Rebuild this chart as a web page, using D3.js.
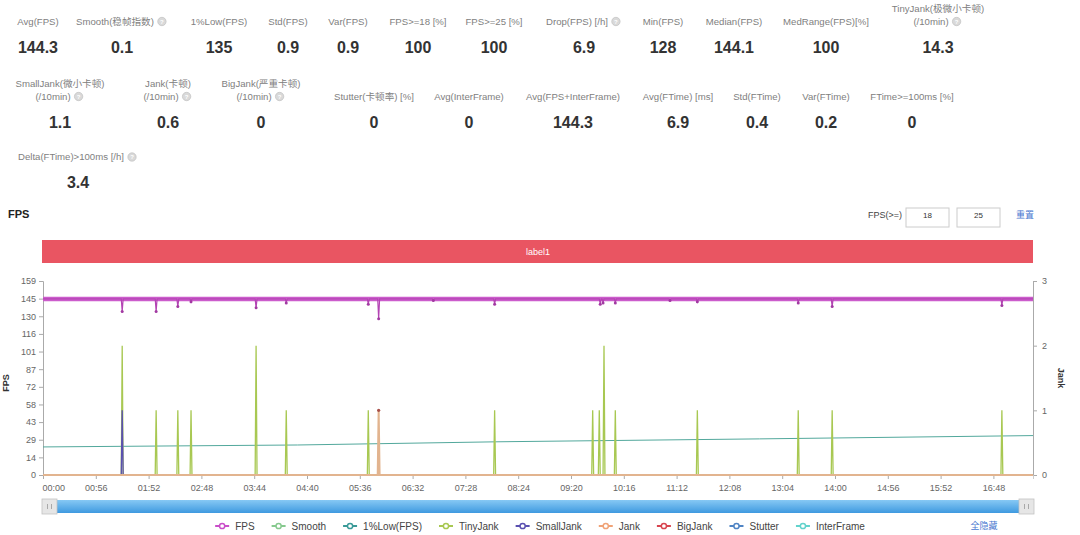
<!DOCTYPE html>
<html>
<head>
<meta charset="utf-8">
<script src="https://cdn.jsdelivr.net/npm/d3@7"></script>
<style>
  body { margin: 0; background: #fff; }
  svg text { font-family: "Liberation Sans", Arial, "Noto Sans CJK SC", sans-serif; }
</style>
</head>
<body>
<div id="chart"></div>
<script>
// ---- summary numbers (three rows of stat cards) ----
const statLabelsRow1 = ['Avg(FPS)', 'Smooth(稳帧指数)', '1%Low(FPS)', 'Std(FPS)', 'Var(FPS)', 'FPS>=18 [%]', 'FPS>=25 [%]',
  'Drop(FPS) [/h]', 'Min(FPS)', 'Median(FPS)', 'MedRange(FPS)[%]', 'TinyJank(极微小卡顿)\n(/10min)'];
const statValuesRow1 = ['144.3', '0.1', '135', '0.9', '0.9', '100', '100', '6.9', '128', '144.1', '100', '14.3'];
const statLabelsRow2 = ['SmallJank(微小卡顿)\n(/10min)', 'Jank(卡顿)\n(/10min)', 'BigJank(严重卡顿)\n(/10min)', 'Stutter(卡顿率) [%]',
  'Avg(InterFrame)', 'Avg(FPS+InterFrame)', 'Avg(FTime) [ms]', 'Std(FTime)', 'Var(FTime)', 'FTime>=100ms [%]'];
const statValuesRow2 = ['1.1', '0.6', '0', '0', '0', '144.3', '6.9', '0.4', '0.2', '0'];
const statLabelsRow3 = ['Delta(FTime)>100ms [/h]'];
const statValuesRow3 = ['3.4'];
const helpStats = ['Smooth(稳帧指数)', 'Drop(FPS) [/h]', 'TinyJank(极微小卡顿)\n(/10min)', 'SmallJank(微小卡顿)\n(/10min)',
  'Jank(卡顿)\n(/10min)', 'BigJank(严重卡顿)\n(/10min)', 'Delta(FTime)>100ms [/h]'];

// ---- chart data ----
const duration = 1050;                  // seconds shown on the x axis
const timeTickLabels = ['00:00', '00:56', '01:52', '02:48', '03:44', '04:40', '05:36', '06:32', '07:28', '08:24',
  '09:20', '10:16', '11:12', '12:08', '13:04', '14:00', '14:56', '15:52', '16:48'];
const fpsMax = 159;
const fpsTickLabels = ['0', '14', '29', '43', '58', '72', '87', '101', '116', '130', '145', '159'];
const jankTickLabels = ['0', '1', '2', '3'];
const fpsLevel = 144.3;                 // steady frame rate
const fpsDips = [[84, 134], [120, 134], [143, 138], [157, 142], [226, 137], [258, 141], [345, 140], [356, 128],
  [414, 143], [479, 140], [591, 140], [594, 141], [607, 141], [665, 143], [694, 142], [801, 141], [837, 138], [1017, 139]];
const smoothValues = [[0, 23.0], [270, 24.6], [480, 27.2], [760, 29.6], [1050, 32.3]];
const tinyJankEvents = [[84, 2], [120, 1], [143, 1], [157, 1], [226, 2], [258, 1], [345, 1], [479, 1],
  [583, 1], [590, 1], [595, 2], [607, 1], [694, 1], [801, 1], [837, 1], [1017, 1]];
const smallJankEvents = [[84, 1]];
const jankEvents = [[356, 1]];
const bigJankEvents = [];
const stutterEvents = [];
const interFrameEvents = [];
const legendNames = ['FPS', 'Smooth', '1%Low(FPS)', 'TinyJank', 'SmallJank', 'Jank', 'BigJank', 'Stutter', 'InterFrame'];
const legendColors = ['#c94fc9', '#86c98e', '#3a9a98', '#a8c852', '#5a50b0', '#f0a377', '#d8454f', '#4f84c4', '#62d3cc'];

const W = 1080, H = 535;
const svg = d3.select('#chart').append('svg').attr('width', W).attr('height', H);

// ---- stat cards ----
const statCenters = [
  [38, 122, 219, 288, 348, 418, 494, 584, 663, 734, 826, 938],
  [60, 168, 261, 374, 469, 573, 678, 757, 826, 912],
  [78]
];
const statRows = [
  { labels: statLabelsRow1, values: statValuesRow1, top: 9 },
  { labels: statLabelsRow2, values: statValuesRow2, top: 84 },
  { labels: statLabelsRow3, values: statValuesRow3, top: 157 }
];
const lineGap = 12.5;

statRows.forEach((row, ri) => {
  const nLines = d3.max(row.labels, l => l.split('\n').length);
  const bottomLine = row.top + (nLines - 1) * lineGap;
  row.labels.forEach((lab, i) => {
    const cx = statCenters[ri][i];
    const lines = lab.split('\n');
    const g = svg.append('g');
    const hasHelp = helpStats.includes(lab);
    lines.forEach((ln, li) => {
      const y = bottomLine - (lines.length - 1 - li) * lineGap;
      const isLast = li === lines.length - 1;
      const shift = (hasHelp && isLast) ? -7 : 0;
      const t = g.append('text')
        .attr('x', cx + shift).attr('y', y)
        .attr('dy', '0.35em')
        .attr('text-anchor', 'middle')
        .attr('font-size', 9.6)
        .attr('fill', '#808080')
        .text(ln);
      if (hasHelp && isLast) {
        const w = t.node().getComputedTextLength();
        const hx = cx + shift + w / 2 + 8;
        g.append('circle').attr('cx', hx).attr('cy', y).attr('r', 4.2)
          .attr('fill', '#d9d9d9').attr('stroke', '#bbb').attr('stroke-width', 0.6);
        g.append('text').attr('x', hx).attr('y', y).attr('dy', '0.35em')
          .attr('text-anchor', 'middle').attr('font-size', 6).attr('fill', '#fff')
          .attr('font-weight', 'bold').text('?');
      }
    });
    g.append('text')
      .attr('x', cx).attr('y', bottomLine + 25.5)
      .attr('dy', '0.35em')
      .attr('text-anchor', 'middle')
      .attr('font-size', 16)
      .attr('font-weight', 'bold')
      .attr('fill', '#333')
      .text(row.values[i]);
  });
});

// ---- chart header ----
svg.append('text').attr('x', 8).attr('y', 218).attr('font-size', 11).attr('font-weight', 'bold')
  .attr('fill', '#222').text('FPS');

svg.append('text').attr('x', 902).attr('y', 218).attr('text-anchor', 'end').attr('font-size', 9)
  .attr('fill', '#444').text('FPS(>=)');
[[906, '18'], [957, '25']].forEach(([bx, v]) => {
  svg.append('rect').attr('x', bx).attr('y', 208).attr('width', 43).attr('height', 19)
    .attr('fill', '#fff').attr('stroke', '#ccc');
  svg.append('text').attr('x', bx + 21.5).attr('y', 218).attr('text-anchor', 'middle')
    .attr('font-size', 8).attr('fill', '#333').text(v);
});
svg.append('text').attr('x', 1025).attr('y', 218).attr('text-anchor', 'middle').attr('font-size', 9)
  .attr('fill', '#4a78d0').text('重置');

const x = d3.scaleLinear().domain([0, duration]).range([43, 1033]);
const yFps = d3.scaleLinear().domain([0, fpsMax]).range([475, 281]);
const yJank = d3.scaleLinear().domain([0, jankTickLabels.length - 1]).range([475, 281]);

svg.append('rect').attr('x', x(0) - 1).attr('y', 240).attr('width', x(duration) - x(0) + 1).attr('height', 23)
  .attr('fill', '#e95562');
svg.append('text').attr('x', (x(0) + x(duration)) / 2).attr('y', 252).attr('dy', '0.35em')
  .attr('text-anchor', 'middle').attr('font-size', 9).attr('fill', '#fff').text('label1');

// ---- axes ----
const fpsTickValues = fpsTickLabels.map((_, i) => i * fpsMax / (fpsTickLabels.length - 1));
const axL = svg.append('g').attr('transform', `translate(${x(0)},0)`)
  .call(d3.axisLeft(yFps).tickValues(fpsTickValues).tickFormat((d, i) => fpsTickLabels[i]).tickSize(4).tickPadding(3));
const axR = svg.append('g').attr('transform', `translate(${x(duration)},0)`)
  .call(d3.axisRight(yJank).ticks(3).tickFormat((d, i) => jankTickLabels[i]).tickSize(4).tickPadding(5));
const tickTimes = timeTickLabels.map((_, i) => i * 56);
const axB = svg.append('g').attr('transform', `translate(0,${yFps(0)})`)
  .call(d3.axisBottom(x).tickValues(tickTimes).tickFormat((d, i) => timeTickLabels[i]).tickSize(4).tickPadding(6));

[axL, axR, axB].forEach(a => {
  a.select('.domain').attr('stroke', '#aaa');
  a.selectAll('.tick line').attr('stroke', '#aaa');
  a.selectAll('.tick text').attr('fill', '#666').attr('font-size', 9);
});
axB.select('.domain').attr('stroke', '#ccc');
axB.selectAll('.tick text').filter((d, i) => i === 0).attr('text-anchor', 'start').attr('dx', -1);

svg.append('text').attr('transform', `translate(9,${yFps(fpsMax / 2) + 5}) rotate(-90)`)
  .attr('text-anchor', 'middle').attr('font-size', 9).attr('font-weight', 'bold').attr('fill', '#333').text('FPS');
svg.append('text').attr('transform', `translate(1058,${yJank(1.5)}) rotate(90)`)
  .attr('text-anchor', 'middle').attr('font-size', 9).attr('font-weight', 'bold').attr('fill', '#333').text('Jank');

// ---- series ----
function spikes(events) {
  const pts = [[0, 0]];
  events.forEach(([t, v]) => pts.push([t - 1, 0], [t, v], [t + 1, 0]));
  pts.push([duration, 0]);
  return pts;
}
const plot = svg.append('g');
const jankLine = d3.line().x(d => x(d[0])).y(d => yJank(d[1]));
const fpsLine = d3.line().x(d => x(d[0])).y(d => yFps(d[1]));

plot.append('path').datum(smoothValues).attr('d', fpsLine)
  .attr('fill', 'none').attr('stroke', '#52a89c').attr('stroke-width', 1);

const jankSeries = [
  [tinyJankEvents, legendColors[3]],
  [smallJankEvents, legendColors[4]],
  [stutterEvents, legendColors[7]],
  [interFrameEvents, legendColors[8]],
  [bigJankEvents, legendColors[6]],
  [jankEvents, '#e2b48f']
];
jankSeries.forEach(([ev, col], k) => {
  plot.append('path').datum(spikes(ev)).attr('d', jankLine)
    .attr('fill', 'none').attr('stroke', col).attr('stroke-width', k === jankSeries.length - 1 ? 2 : 1.3);
});
plot.append('circle').datum(jankEvents[0]).attr('cx', d => x(d[0])).attr('cy', d => yJank(d[1]))
  .attr('r', 1.6).attr('fill', '#a8504a');

// FPS: steady band plus the short drops
plot.append('path').datum([[0, fpsLevel], [duration, fpsLevel]]).attr('d', fpsLine)
  .attr('fill', 'none').attr('stroke', '#cc5dcc').attr('stroke-width', 4.5);
const fpsPts = [[0, fpsLevel]];
fpsDips.forEach(([t, v]) => fpsPts.push([t - 1, fpsLevel], [t, v], [t + 1, fpsLevel]));
fpsPts.push([duration, fpsLevel]);
plot.append('path').datum(fpsPts).attr('d', fpsLine)
  .attr('fill', 'none').attr('stroke', '#b444b4').attr('stroke-width', 1.2);
plot.selectAll('.dip').data(fpsDips).join('circle')
  .attr('cx', d => x(d[0])).attr('cy', d => yFps(d[1])).attr('r', 1.5).attr('fill', '#a23aa2');

// ---- zoom slider ----
const sy = 500, sh = 13;
const grad = svg.append('defs').append('linearGradient').attr('id', 'slider-grad')
  .attr('x1', 0).attr('y1', 0).attr('x2', 0).attr('y2', 1);
grad.append('stop').attr('offset', '0%').attr('stop-color', '#86c8f4');
grad.append('stop').attr('offset', '100%').attr('stop-color', '#3f9ae0');
svg.append('rect').attr('x', x(0)).attr('y', sy).attr('width', x(duration) - x(0)).attr('height', sh)
  .attr('fill', 'url(#slider-grad)');
[x(0) - 1, x(duration) - 14].forEach(hx => {
  svg.append('rect').attr('x', hx).attr('y', sy - 1).attr('width', 15).attr('height', sh + 2)
    .attr('fill', '#e6e6e6').attr('stroke', '#c2c2c2').attr('stroke-width', 0.8);
  [5.5, 9.5].forEach(o => svg.append('line').attr('x1', hx + o).attr('x2', hx + o)
    .attr('y1', sy + 4).attr('y2', sy + sh - 4).attr('stroke', '#999').attr('stroke-width', 0.8));
});

// ---- legend ----
const legend = svg.append('g');
let lx = 0;
legendNames.forEach((name, i) => {
  const item = legend.append('g').attr('transform', `translate(${lx},0)`);
  item.append('line').attr('x1', 0).attr('x2', 14).attr('y1', 0).attr('y2', 0)
    .attr('stroke', legendColors[i]).attr('stroke-width', 2);
  item.append('circle').attr('cx', 7).attr('cy', 0).attr('r', 2.6).attr('fill', '#fff')
    .attr('stroke', legendColors[i]).attr('stroke-width', 1.5);
  const t = item.append('text').attr('x', 20).attr('dy', '0.35em').attr('font-size', 10).attr('fill', '#444').text(name);
  lx += 20 + t.node().getComputedTextLength() + 17;
});
legend.attr('transform', `translate(${540 - (lx - 17) / 2},526)`);
svg.append('text').attr('x', 984).attr('y', 526).attr('dy', '0.35em').attr('text-anchor', 'middle')
  .attr('font-size', 9).attr('fill', '#4a78d0').text('全隐藏');
</script>
</body>
</html>
